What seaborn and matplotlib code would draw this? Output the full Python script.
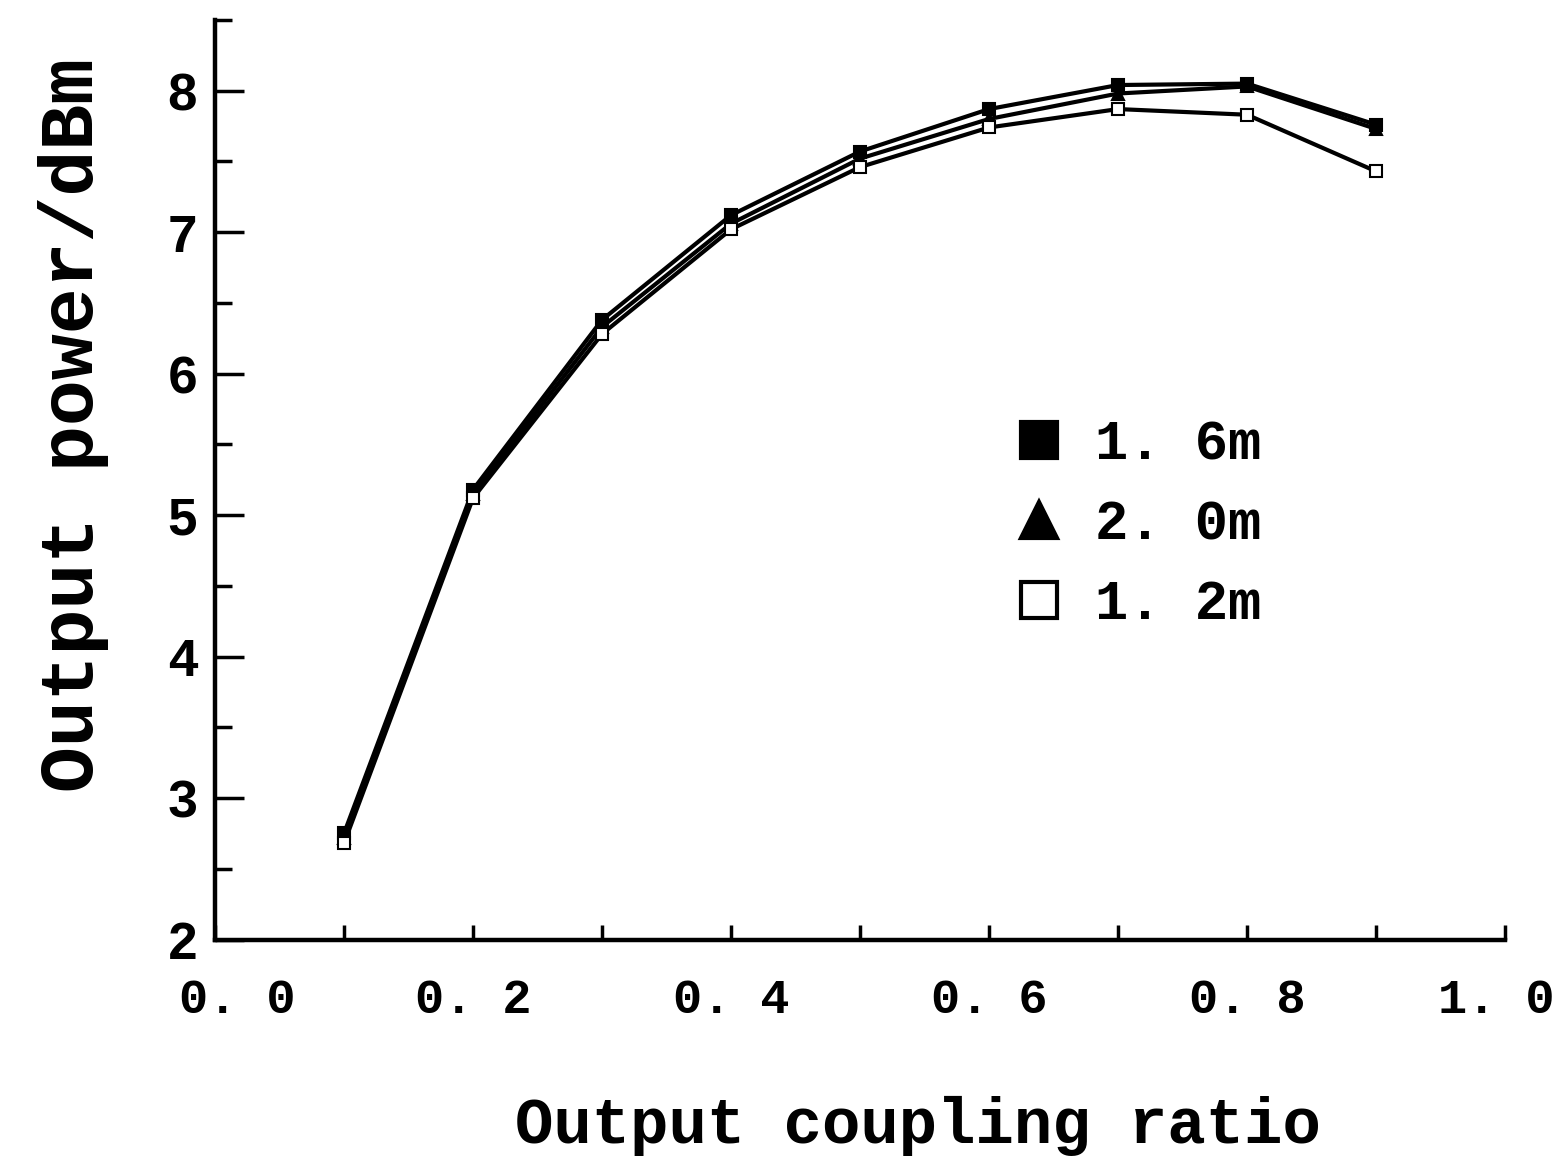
import numpy as np
import pandas as pd
import matplotlib
matplotlib.use("Agg")
import matplotlib.pyplot as plt
import matplotlib.transforms as mtransforms
from matplotlib.lines import Line2D
from matplotlib.ticker import MultipleLocator, FuncFormatter
import seaborn as sns

# values
coupling = [0.1, 0.2, 0.3, 0.4, 0.5, 0.6, 0.7, 0.8, 0.9]
p_16 = [2.75, 5.18, 6.38, 7.12, 7.57, 7.87, 8.04, 8.05, 7.76]
p_20 = [2.72, 5.15, 6.33, 7.06, 7.52, 7.80, 7.98, 8.03, 7.73]
p_12 = [2.68, 5.12, 6.28, 7.02, 7.46, 7.74, 7.87, 7.83, 7.43]
labels = ["1. 6m", "2. 0m", "1. 2m"]

sns.set_style("ticks")
plt.rcParams["font.family"] = ["Liberation Mono", "DejaVu Sans Mono"]
plt.rcParams["font.weight"] = "bold"
for k in ["text.color", "axes.labelcolor", "xtick.color", "ytick.color", "axes.edgecolor"]:
    plt.rcParams[k] = "black"

fig = plt.figure(figsize=(15.58, 11.73), dpi=100)
ax = fig.add_axes([0.138, 0.199, 0.828, 0.784])

# marker style per series: (marker, face colour)
styles = [("s", "black"), ("^", "black"), ("s", "white")]
series = [p_16, p_20, p_12]
for vals, (mk, fc) in zip(series, styles):
    sns.lineplot(x=coupling, y=vals, ax=ax, color="black", lw=3,
                 marker=mk, markersize=9, markerfacecolor=fc,
                 markeredgecolor="black", markeredgewidth=1.5)

ax.set_xlim(0, 1.0)
ax.set_ylim(2, 8.5)
sns.despine(ax=ax)
for s in ["left", "bottom"]:
    ax.spines[s].set_linewidth(3.2)

ax.xaxis.set_major_locator(MultipleLocator(0.2))
ax.xaxis.set_minor_locator(MultipleLocator(0.1))
ax.yaxis.set_major_locator(MultipleLocator(1))
ax.yaxis.set_minor_locator(MultipleLocator(0.5))
ax.xaxis.set_major_formatter(FuncFormatter(lambda v, p: f"{v:.1f}".replace(".", ". ")))

ax.tick_params(axis="x", which="both", direction="in", length=11, width=2.5,
               pad=28, labelsize=35)
ax.tick_params(axis="y", which="major", direction="in", length=21, width=2.5,
               pad=12, labelsize=38)
ax.tick_params(axis="y", which="minor", direction="in", length=12, width=2.5)

ax.set_xlabel("Output coupling ratio", fontsize=46, fontweight="bold")
ax.set_ylabel("Output power/dBm", fontsize=55, fontweight="bold")
ax.xaxis.set_label_coords(0.545, -0.17)
ax.yaxis.set_label_coords(-0.082, 0.56)

handles = [Line2D([], [], ls="none", marker=mk, markersize=26,
                  markerfacecolor=fc, markeredgecolor="black", markeredgewidth=3)
           for mk, fc in styles]
ax.legend(handles, labels, loc="upper left", bbox_to_anchor=(0.6, 0.59),
          frameon=False, fontsize=40, handlelength=1.0, handletextpad=0.5,
          labelspacing=0.5, borderaxespad=0)

# nudge the end labels like the original (first right, last left so it fits)
fig.canvas.draw()
for t in ax.xaxis.get_major_ticks():
    loc = t.get_loc()
    if abs(loc) < 1e-9:
        dx = 0.22
    elif abs(loc - 1.0) < 1e-9:
        dx = -0.09
    else:
        continue
    t.label1.set_transform(t.label1.get_transform()
                           + mtransforms.ScaledTranslation(dx, 0, fig.dpi_scale_trans))

fig.savefig("out.png", dpi=100)
